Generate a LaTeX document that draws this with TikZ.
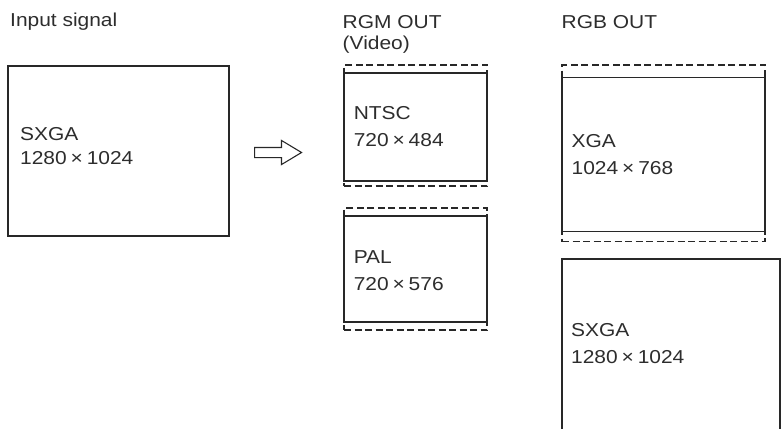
\documentclass[tikz,border=0pt]{standalone}
\usepackage{fontspec}
\setmainfont[FakeStretch=1.12]{Liberation Sans}
\usepackage{tikz}
\usetikzlibrary{positioning,shapes.arrows}
\definecolor{inkgray}{RGB}{40,40,40}
\definecolor{textgray}{RGB}{45,45,45}
\newcommand{\by}{\makebox[20pt]{×}}

\begin{document}
\begin{tikzpicture}[
  x=1pt,y=-1pt,
  frame/.style={draw=inkgray,line width=1.1pt,inner sep=0pt,outer sep=0pt},
  pad/.style={draw=inkgray,line width=1.1pt,dash pattern=on 7pt off 3.5pt,
    inner sep=0pt,outer sep=0pt},
  lbl/.style={text=textgray,inner sep=0pt,align=left,anchor=west,
    font={\fontsize{18.7}{27}\selectfont}},
  head/.style={text=textgray,inner sep=0pt,align=left,anchor=north west,
    font={\fontsize{18.7}{21}\selectfont}},
  conv/.style={single arrow,draw=inkgray,line width=1.1pt,minimum height=47pt,
    inner xsep=0pt,inner ysep=4.5pt,single arrow head extend=7pt,
    single arrow tip angle=62,anchor=tail}
]
\useasboundingbox (0,0) rectangle (781,428);
% titles
\node[head] (intitle) at (10,12.3) {Input signal};
\node[head] (rgmtitle) at (342.5,14.8) {RGM OUT\\(Video)};
\node[head] (rgbtitle) at (561.5,14.8) {RGB OUT};
% input frame
\node[frame,minimum width=221pt,minimum height=170pt] (input) at (118.5,151) {};
\node[lbl,font={\fontsize{18.7}{24.5}\selectfont}] (inputtxt)
  at ([xshift=12pt,yshift=4.8pt]input.west) {SXGA\\1280\by1024};
\node[conv] (conv) at (254,152.5) {};
% video outputs
\node[pad,minimum width=143pt,minimum height=121pt] (ntscpad) at (415.5,125.5) {};
\node[frame,minimum width=143pt,minimum height=108pt] (ntsc) at (415.5,127) {};
\node[lbl] (ntsctxt) at ([xshift=9.6pt]ntsc.west) {NTSC\\720\by484};
\node[pad,minimum width=143pt,minimum height=122pt] (palpad) at (415.5,269) {};
\node[frame,minimum width=143pt,minimum height=106pt] (pal) at (415.5,269) {};
\node[lbl] (paltxt) at ([xshift=9.6pt,yshift=-1.5pt]pal.west) {PAL\\720\by576};
% rgb outputs
\node[pad,minimum width=203pt,minimum height=176.5pt] (xgapad) at (663.5,153.25) {};
\node[frame,minimum width=203pt,minimum height=154pt] (xga) at (663.5,154.5) {};
\node[lbl] (xgatxt) at ([xshift=9.5pt]xga.west) {XGA\\1024\by768};
\node[frame,minimum width=218pt,minimum height=172pt] (sxga) at (671,345) {};
\node[lbl] (sxgatxt) at ([xshift=9pt,yshift=1pt]sxga.west) {SXGA\\1280\by1024};
\end{tikzpicture}
\end{document}
